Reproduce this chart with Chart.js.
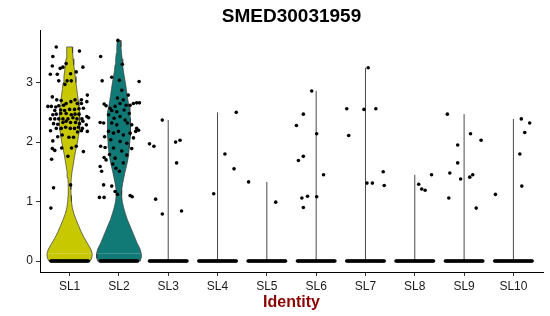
<!DOCTYPE html>
<html>
<head>
<meta charset="utf-8">
<script src="https://cdn.jsdelivr.net/npm/chart.js@4.4.0/dist/chart.umd.min.js"></script>
<style>
  html, body { margin: 0; padding: 0; background: #fff; }
</style>
</head>
<body>
<canvas id="chart" width="550" height="316"></canvas>
<script>
const categories = ["SL1", "SL2", "SL3", "SL4", "SL5", "SL6", "SL7", "SL8", "SL9", "SL10"];
const yTicks = [0, 1, 2, 3];

// violin outlines (expression level, half width in category units)
const sl1VioY = [0, 0.05, 0.12, 0.2, 0.3, 0.4, 0.5, 0.6, 0.7, 0.8, 0.9, 1.0, 1.1, 1.2, 1.3, 1.4, 1.5, 1.6, 1.7, 1.8, 1.9, 2.0, 2.1, 2.2, 2.3, 2.4, 2.5, 2.6, 2.7, 2.8, 2.9, 3.0, 3.1, 3.2, 3.3, 3.4, 3.5, 3.6];
const sl1VioW = [0.42, 0.45, 0.46, 0.43, 0.36, 0.29, 0.23, 0.18, 0.13, 0.085, 0.055, 0.038, 0.03, 0.027, 0.028, 0.035, 0.05, 0.07, 0.09, 0.11, 0.135, 0.16, 0.18, 0.195, 0.205, 0.21, 0.205, 0.19, 0.175, 0.16, 0.145, 0.13, 0.115, 0.1, 0.085, 0.072, 0.062, 0.054];
const sl2VioY = [0, 0.05, 0.12, 0.2, 0.3, 0.4, 0.5, 0.6, 0.7, 0.8, 0.9, 1.0, 1.1, 1.2, 1.3, 1.4, 1.5, 1.6, 1.7, 1.8, 1.9, 2.0, 2.1, 2.2, 2.3, 2.4, 2.5, 2.6, 2.7, 2.8, 2.9, 3.0, 3.1, 3.2, 3.3, 3.4, 3.5, 3.6, 3.71];
const sl2VioW = [0.43, 0.45, 0.455, 0.43, 0.37, 0.32, 0.27, 0.22, 0.17, 0.13, 0.095, 0.068, 0.055, 0.058, 0.075, 0.1, 0.125, 0.155, 0.18, 0.2, 0.21, 0.22, 0.23, 0.237, 0.237, 0.232, 0.222, 0.205, 0.185, 0.165, 0.15, 0.13, 0.11, 0.09, 0.078, 0.065, 0.052, 0.042, 0.035];

// non-zero cells: expression value + horizontal jitter
const sl1Val = [3.60,3.44,3.28,3.53,3.26,3.14,3.14,3.24,3.26,3.32,3.15,3.18,3.03,3.03,2.97,3.03,2.79,2.76,2.71,2.70,2.71,2.68,2.60,2.59,2.61,2.62,2.65,2.68,2.71,2.65,2.65,2.60,2.53,2.54,2.53,2.55,2.55,2.56,2.57,2.46,2.47,2.48,2.48,2.46,2.47,2.47,2.43,2.41,2.39,2.39,2.39,2.39,2.39,2.41,2.39,2.39,2.31,2.30,2.33,2.35,2.33,2.33,2.31,2.35,2.29,2.19,2.23,2.23,2.25,2.23,2.23,2.25,2.23,2.18,2.02,2.09,2.12,2.08,2.08,2.17,2.19,1.89,1.86,1.90,1.90,1.93,1.84,1.76,1.71,1.28,1.23,0.89];
const sl1Jit = [-0.27,-0.34,-0.35,0.20,0.27,-0.39,-0.25,-0.19,-0.135,-0.07,0.02,0.135,0.034,-0.22,-0.095,-0.05,0.36,-0.35,-0.26,-0.17,0.24,0.35,-0.37,-0.28,-0.22,-0.12,-0.07,0.027,0.11,0.156,0.24,-0.44,-0.30,-0.18,-0.10,0,0.10,0.19,0.28,-0.34,-0.27,-0.18,-0.07,0.034,0.11,0.19,0.35,0.386,-0.39,-0.30,-0.22,-0.135,-0.034,0.068,0.15,0.25,-0.325,-0.24,-0.135,-0.07,0.02,0.12,0.20,0.27,0.34,-0.386,-0.27,-0.17,-0.08,0.014,0.10,0.18,0.26,0.36,-0.34,-0.24,-0.15,-0.014,0.08,0.16,0.24,-0.35,-0.30,-0.16,0.04,0.135,0.28,-0.034,-0.365,0.02,-0.325,-0.38];
const sl2Val = [3.71,3.44,3.31,3.09,3.03,3.02,3.04,2.87,2.79,2.74,2.71,2.64,2.61,2.57,2.60,2.65,2.62,2.62,2.65,2.66,2.66,2.53,2.51,2.54,2.48,2.46,2.40,2.43,2.37,2.33,2.32,2.32,2.29,2.32,2.29,2.23,2.20,2.18,2.18,2.15,2.18,2.12,2.15,2.09,2.07,2.04,2.01,1.98,1.93,1.91,1.90,1.89,1.85,1.79,1.74,1.73,1.78,1.70,1.59,1.63,1.65,1.51,1.56,1.51,1.28,1.26,1.17,1.12,1.07,1.07,1.10,1.08];
const sl2Jit = [-0.02,-0.37,0.07,-0.145,-0.34,0.41,0.01,0.058,0.19,-0.03,0.09,-0.30,-0.26,-0.18,-0.077,0.024,0.146,0.227,0.295,0.36,0.417,-0.145,-0.043,0.106,0.21,-0.21,-0.097,0.024,0.126,-0.38,-0.31,-0.145,-0.043,0.173,0.26,0.36,0.40,0.34,-0.21,-0.11,-0.01,0.09,0.227,-0.29,0.295,-0.165,0.024,0.16,-0.37,-0.28,-0.11,0.26,0.058,-0.19,-0.30,-0.077,0.16,-0.26,-0.38,-0.124,0.09,-0.35,-0.06,0.01,-0.31,-0.145,-0.077,-0.03,-0.395,-0.30,0.227,0.27];
const sl3Val = [2.37, 1.97, 1.93, 2.00, 2.03, 1.65, 1.04, 0.79, 0.84];
const sl3Jit = [-0.12, -0.38, -0.29, 0.15, 0.24, 0.17, -0.255, -0.12, 0.27];
const sl4Val = [2.50, 1.80, 1.55, 1.13];
const sl4Jit = [0.38, 0.15, 0.335, -0.077];
const sl5Val = [1.33, 0.99];
const sl5Jit = [-0.37, 0.18];
const sl6Val = [2.86, 2.47, 2.28, 2.14, 1.76, 1.69, 1.45, 1.09, 1.06, 1.08, 0.90];
const sl6Jit = [-0.09, -0.26, -0.40, 0.01, -0.26, -0.36, 0.15, -0.175, -0.29, 0.01, -0.26];
const sl7Val = [3.25, 2.56, 2.55, 2.56, 2.11, 1.50, 1.31, 1.31, 1.27];
const sl7Jit = [0.055, -0.38, -0.03, 0.21, -0.34, 0.36, 0.03, 0.14, 0.38];
const sl8Val = [1.45, 1.29, 1.21, 1.19];
const sl8Jit = [0.34, 0.08, 0.14, 0.21];
const sl9Val = [2.47, 2.14, 2.03, 1.95, 1.65, 1.48, 1.38, 1.41, 1.45, 1.06, 0.89];
const sl9Jit = [-0.34, 0.13, 0.345, -0.13, -0.13, -0.29, -0.07, 0.115, 0.175, -0.31, 0.245];
const sl10Val = [2.39, 2.32, 2.16, 1.80, 1.26, 1.12];
const sl10Jit = [0.16, 0.33, 0.23, 0.13, 0.17, -0.365];

// jitter of the many zero-expression cells (solid band at 0)
const zeroJit = [-0.38,-0.36,-0.34,-0.32,-0.30,-0.28,-0.26,-0.24,-0.22,-0.20,-0.18,-0.16,-0.14,-0.12,-0.10,-0.08,-0.06,-0.04,-0.02,0,0.02,0.04,0.06,0.08,0.10,0.12,0.14,0.16,0.18,0.20,0.22,0.24,0.26,0.28,0.30,0.32,0.34,0.36,0.38];

const groupVals = [sl1Val, sl2Val, sl3Val, sl4Val, sl5Val, sl6Val, sl7Val, sl8Val, sl9Val, sl10Val];
const groupJits = [sl1Jit, sl2Jit, sl3Jit, sl4Jit, sl5Jit, sl6Jit, sl7Jit, sl8Jit, sl9Jit, sl10Jit];

// split each violin at its widest row so the filler's x-clip keeps the whole shape
function violinParts(center, ys, ws) {
  const b = ws.indexOf(Math.max(...ws));
  const upper = [], lower = [];
  for (let i = b; i < ys.length; i++) upper.push({ x: center - ws[i], y: ys[i] });
  for (let i = ys.length - 1; i >= b; i--) upper.push({ x: center + ws[i], y: ys[i] });
  for (let i = b; i >= 0; i--) lower.push({ x: center - ws[i], y: ys[i] });
  for (let i = 0; i <= b; i++) lower.push({ x: center + ws[i], y: ys[i] });
  return [upper, lower];
}

const datasets = [];
const violins = [
  { c: 1, ys: sl1VioY, ws: sl1VioW, color: "#c8c800" },
  { c: 2, ys: sl2VioY, ws: sl2VioW, color: "#127a76" }
];
violins.forEach(v => {
  violinParts(v.c, v.ys, v.ws).forEach(part => {
    datasets.push({
      data: part, showLine: true, fill: "shape", tension: 0,
      backgroundColor: v.color, borderColor: "#3a3a3a", borderWidth: 0.7,
      pointRadius: 0, order: 3
    });
  });
});

// the other clusters collapse to a single vertical line from 0 to their max
for (let i = 2; i < categories.length; i++) {
  datasets.push({
    data: [{ x: i + 1, y: 0 }, { x: i + 1, y: Math.max(...groupVals[i]) }],
    showLine: true, fill: false, borderColor: "#4a4a4a", borderWidth: 1,
    pointRadius: 0, order: 2
  });
}

const pts = [];
groupVals.forEach((vals, i) => {
  zeroJit.forEach(j => pts.push({ x: i + 1 + j, y: 0 }));
  vals.forEach((v, k) => pts.push({ x: i + 1 + groupJits[i][k], y: v }));
});
datasets.push({
  data: pts, showLine: false, backgroundColor: "#000", borderWidth: 0,
  pointRadius: 1.8, order: 1
});

const fam = "'Liberation Sans', Arial, sans-serif";
const tickFont = { family: fam, size: 12 };

new Chart(document.getElementById("chart"), {
  type: "scatter",
  data: { datasets },
  options: {
    responsive: false,
    animation: false,
    devicePixelRatio: 1,
    layout: { padding: { left: 0, right: 7, top: 0, bottom: 0 } },
    plugins: {
      legend: { display: false },
      tooltip: { enabled: false }
    },
    scales: {
      x: {
        type: "linear",
        min: 0.4,
        max: 10.6,
        afterBuildTicks: s => { s.ticks = categories.map((_, i) => ({ value: i + 1 })); },
        afterFit: s => { s.height = 44; },
        ticks: {
          color: "#1a1a1a", font: tickFont, padding: 3, maxRotation: 0, autoSkip: false,
          callback: v => categories[v - 1]
        },
        grid: { display: true, drawOnChartArea: false, drawTicks: true, tickLength: 4, color: "#333" },
        border: { display: true, color: "#000", width: 1 },
        title: {
          display: true, text: "Identity", color: "#8b0000",
          font: { family: fam, size: 16, weight: "bold" },
          padding: { top: 0, bottom: 4 }
        }
      },
      // top axis only carries the plot title, centred over the panel
      xTitle: {
        axis: "x",
        type: "linear",
        position: "top",
        min: 0,
        max: 1,
        afterFit: s => { s.height = 30; },
        ticks: { display: false },
        grid: { display: false, drawTicks: false },
        border: { display: false },
        title: {
          display: true, text: "SMED30031959", color: "#000",
          font: { family: fam, size: 19, weight: "bold" },
          padding: { top: 5, bottom: 2 }
        }
      },
      y: {
        type: "linear",
        min: -0.185,
        max: 3.885,
        afterBuildTicks: s => { s.ticks = yTicks.map(v => ({ value: v })); },
        afterFit: s => { s.width = 40; },
        ticks: { color: "#1a1a1a", font: tickFont, padding: 3 },
        grid: { display: true, drawOnChartArea: false, drawTicks: true, tickLength: 4, color: "#333" },
        border: { display: true, color: "#000", width: 1 }
      }
    }
  }
});
</script>
</body>
</html>
